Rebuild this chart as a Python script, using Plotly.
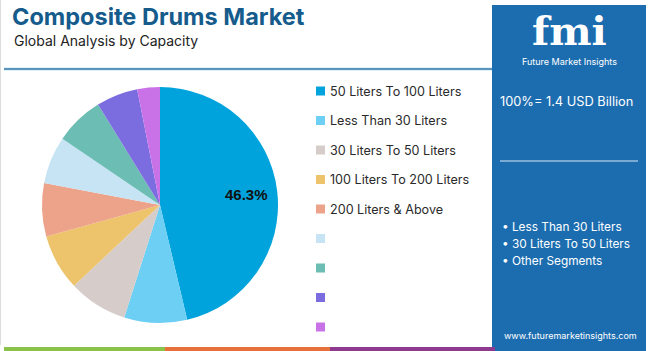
import math
import plotly.graph_objects as go

W, H = 650, 351

categories = ["50 Liters To 100 Liters", "Less Than 30 Liters", "30 Liters To 50 Liters",
              "100 Liters To 200 Liters", "200 Liters & Above", "", " ", "  ", "   "]
values = [46.3, 8.6, 8.1, 7.7, 7.3, 6.5, 6.7, 5.7, 3.1]
colors = ["#00A3DB", "#6DCFF3", "#D6CCC9", "#EDC46B", "#EDA28A", "#C6E4F4", "#6CBDB3", "#7B6CE0", "#C972E8"]
shown_label = "46.3%"

title = "Composite Drums Market"
subtitle = "Global Analysis by Capacity"
total_text = "100%= 1.4 USD Billion"
bullets = ["• Less Than 30 Liters", "• 30 Liters To 50 Liters", "• Other Segments"]
url = "www.futuremarketinsights.com"

FONT = "Inter"

# pie geometry (pixels)
CX, CY, R = 160, 205, 118

fig = go.Figure()
fig.add_trace(go.Pie(
    labels=categories, values=values, sort=False, direction="clockwise", rotation=0,
    marker=dict(colors=colors, line=dict(width=0)),
    textinfo="none",
    domain=dict(x=[(CX - R) / W, (CX + R) / W], y=[1 - (CY + R) / H, 1 - (CY - R) / H]),
    showlegend=False, hoverinfo="label+percent",
))

shapes = []
annotations = []

def px(x):
    return x / W

def py(y):
    return 1 - y / H

# label of first slice along its bisector
total = sum(values)
ang = math.radians(values[0] / total * 360 / 2)
lx = CX + 0.74 * R * math.sin(ang)
ly = CY - 0.74 * R * math.cos(ang)
annotations.append(dict(text="<b>" + shown_label + "</b>", x=px(lx), y=py(ly), xref="paper", yref="paper",
                        xanchor="center", yanchor="middle", showarrow=False,
                        font=dict(family="Arial", size=15, color="#111111")))

# left border
shapes.append(dict(type="line", xref="paper", yref="paper", x0=px(0.5), x1=px(0.5), y0=py(0), y1=py(345),
                   line=dict(color="#DDDDDD", width=1)))
# header line
shapes.append(dict(type="line", xref="paper", yref="paper", x0=px(4), x1=px(492), y0=py(69), y1=py(69),
                   line=dict(color="#BFE6F7", width=3)))
shapes.append(dict(type="line", xref="paper", yref="paper", x0=px(4), x1=px(492), y0=py(69), y1=py(69),
                   line=dict(color="#3C78A8", width=1.5)))
# bottom stripe
for x0, x1, c in [(4, 165, "#8BC34A"), (165, 330, "#E8703A"), (330, 495, "#8E3A8E")]:
    shapes.append(dict(type="rect", xref="paper", yref="paper", x0=px(x0), x1=px(x1), y0=py(351), y1=py(347),
                       line=dict(width=0), fillcolor=c))
# right panel
shapes.append(dict(type="rect", xref="paper", yref="paper", x0=px(492), x1=px(646), y0=py(351), y1=py(5),
                   line=dict(width=0), fillcolor="#1C6DB0", layer="below"))
shapes.append(dict(type="line", xref="paper", yref="paper", x0=px(500), x1=px(638), y0=py(161), y1=py(161),
                   line=dict(color="#D8E6F2", width=1)))

# title
annotations.append(dict(text="<b>" + title + "</b>", x=px(10), y=py(17), xref="paper", yref="paper",
                        xanchor="left", yanchor="middle", showarrow=False,
                        font=dict(family=FONT, size=23.5, color="#155B8C")))
annotations.append(dict(text=subtitle, x=px(12), y=py(40), xref="paper", yref="paper",
                        xanchor="left", yanchor="middle", showarrow=False,
                        font=dict(family=FONT, size=14, color="#222222")))

# legend
for i, (lab, col) in enumerate(zip(categories, colors)):
    yc = 91 + i * 29.5
    shapes.append(dict(type="rect", xref="paper", yref="paper", x0=px(316), x1=px(325),
                       y0=py(yc + 4.5), y1=py(yc - 4.5), line=dict(width=0), fillcolor=col))
    if lab.strip():
        annotations.append(dict(text=lab, x=px(328), y=py(yc), xref="paper", yref="paper",
                                xanchor="left", yanchor="middle", showarrow=False,
                                font=dict(family=FONT, size=12.6, color="#2A2A2A")))

# panel texts
annotations.append(dict(text="<b>fmi</b>", x=px(569), y=py(30), xref="paper", yref="paper",
                        xanchor="center", yanchor="middle", showarrow=False,
                        font=dict(family="DejaVu Serif", size=40, color="white")))
annotations.append(dict(text="Future Market Insights", x=px(569), y=py(61), xref="paper", yref="paper",
                        xanchor="center", yanchor="middle", showarrow=False,
                        font=dict(family=FONT, size=9, color="white")))
annotations.append(dict(text=total_text, x=px(566), y=py(101), xref="paper", yref="paper",
                        xanchor="center", yanchor="middle", showarrow=False,
                        font=dict(family=FONT, size=12.8, color="white")))
for i, b in enumerate(bullets):
    annotations.append(dict(text=b, x=px(500), y=py(227 + i * 17), xref="paper", yref="paper",
                            xanchor="left", yanchor="middle", showarrow=False,
                            font=dict(family=FONT, size=11.8, color="white")))
annotations.append(dict(text=url, x=px(570), y=py(335), xref="paper", yref="paper",
                        xanchor="center", yanchor="middle", showarrow=False,
                        font=dict(family=FONT, size=9, color="white")))

fig.update_layout(width=W, height=H, margin=dict(l=0, r=0, t=0, b=0),
                  paper_bgcolor="white", plot_bgcolor="white",
                  shapes=shapes, annotations=annotations)

fig.write_html("out.html")
